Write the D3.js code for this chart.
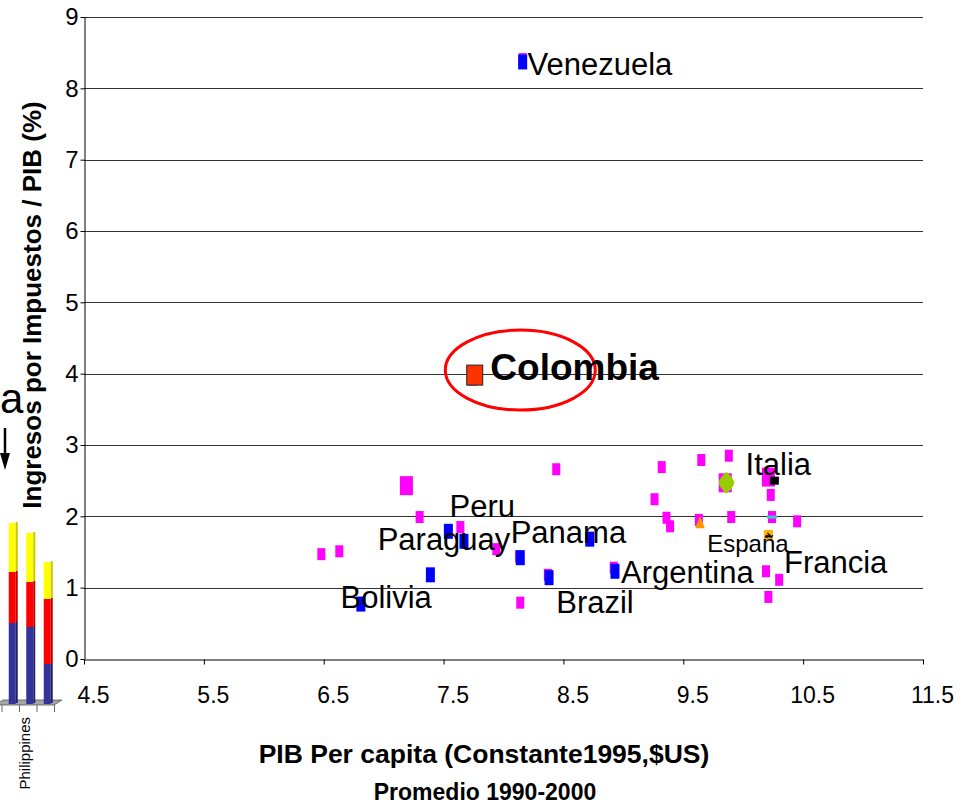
<!DOCTYPE html>
<html>
<head>
<meta charset="utf-8">
<script src="https://cdn.jsdelivr.net/npm/d3@7"></script>
<style>
    body { margin: 0; background: #fff; }
    svg { display: block; font-family: "Liberation Sans", Arial, sans-serif; }
</style>
</head>
<body>
<svg id="chart" width="967" height="809"></svg>
<script>
"use strict";

// ticks
const xTicks = [4.5, 5.5, 6.5, 7.5, 8.5, 9.5, 10.5, 11.5];
const yTicks = [0, 1, 2, 3, 4, 5, 6, 7, 8, 9];

// other countries (magenta)
const otrosX = [8.16, 8.13, 8.37, 8.92, 6.48, 6.63, 7.30, 7.64, 7.94, 8.14, 8.44, 9.26, 9.32, 9.36, 9.39, 9.63, 9.65, 9.88, 9.90, 10.19, 10.21, 10.23, 10.24, 10.30, 10.45];
const otrosY = [8.41, 1.44, 1.18, 1.28, 1.47, 1.51, 1.99, 1.85, 1.54, 0.79, 2.66, 2.24, 2.69, 1.98, 1.86, 1.95, 2.79, 2.85, 1.99, 1.23, 0.87, 2.30, 1.99, 1.11, 1.93];
const otrosGrandesX = [7.19, 9.85, 10.21];
const otrosGrandesY = [2.43, 2.47, 2.55];

// latin america (blue)
const latamX = [8.16, 7.54, 7.67, 8.14, 8.72, 7.39, 8.38, 8.93, 6.81, 7.74];
const latamY = [8.37, 1.79, 1.65, 1.42, 1.68, 1.18, 1.14, 1.23, 0.77, 3.94];

// single series
const colombia = [7.76, 3.98];
const italia = [10.26, 2.50];
const promedio = [9.86, 2.47];
const espana = [10.21, 1.74];
const triangulo = [9.64, 1.89];
const linea = [10.24, 1.99];

// point labels (anchor in data units)
const etiquetas = ["Venezuela", "Peru", "Paraguay", "Panama", "Bolivia", "Brazil", "Argentina", "Italia", "Francia"];
const etiquetasX = [8.20, 7.55, 6.95, 8.06, 6.64, 8.44, 8.98, 10.02, 10.34];
const etiquetasY = [8.19, 1.99, 1.53, 1.63, 0.71, 0.64, 1.07, 2.58, 1.21];

// fragment of the neighbouring chart (stacked bars)
const fragCategorias = ["", "Philippines", ""];
const fragAzul = [0.81, 0.77, 0.40];
const fragRojo = [0.51, 0.45, 0.65];
const fragAmarillo = [0.49, 0.49, 0.37];


const svg = d3.select("#chart");
svg.append("rect").attr("width", 967).attr("height", 809).attr("fill", "#fff");


// fragment (left edge, behind the main chart)
let frag = svg.append("g").attr("class", "fragment");

let fragX = d3.scaleBand()
.domain(d3.range(fragCategorias.length))
.range([4.5, 57]);

let fragY = d3.scaleLinear()
.domain([0, 1])
.range([704, 604]);

// floor
frag.append("path")
.attr("d", "M-5,705 L54,705 L62,700 L3,700 Z")
.attr("fill", "#a6a6a6")
.attr("stroke", "#555")
.attr("stroke-width", 0.8);
d3.range(fragCategorias.length + 1).forEach(i => {
    let x = fragX.step() * i + fragX.range()[0] - 2.5;
    frag.append("line")
    .attr("x1", x).attr("x2", x)
    .attr("y1", 705).attr("y2", 712)
    .attr("stroke", "#666");
});

let stack = fragCategorias.map((c, i) => [
    {v0: 0, v1: fragAzul[i], color: "#333399", side: "#22226b"},
    {v0: fragAzul[i], v1: fragAzul[i] + fragRojo[i], color: "#ff0000", side: "#c00000"},
    {v0: fragAzul[i] + fragRojo[i], v1: fragAzul[i] + fragRojo[i] + fragAmarillo[i], color: "#ffff00", side: "#c8c800"}
]);

stack.forEach((segs, i) => {
    let cx = fragX(i) + fragX.bandwidth() / 2;
    segs.forEach(s => {
        frag.append("rect")
        .attr("x", cx - 4.5)
        .attr("y", fragY(s.v1))
        .attr("width", 7)
        .attr("height", fragY(s.v0) - fragY(s.v1))
        .attr("fill", s.color);
        frag.append("rect")
        .attr("x", cx + 2.5)
        .attr("y", fragY(s.v1) - 1)
        .attr("width", 2)
        .attr("height", fragY(s.v0) - fragY(s.v1))
        .attr("fill", s.side);
    });
});

frag.append("text")
.attr("transform", `translate(${fragX(1) + fragX.bandwidth() / 2 - 1}, 717) rotate(-90)`)
.attr("text-anchor", "end")
.attr("font-size", 15)
.text(fragCategorias[1]);

frag.append("text")
.attr("x", 0)
.attr("y", 413)
.attr("font-size", 42)
.text("a");

frag.append("line")
.attr("x1", 5).attr("x2", 5)
.attr("y1", 428).attr("y2", 456)
.attr("stroke", "#000")
.attr("stroke-width", 2.5);
frag.append("path")
.attr("d", "M0,453 L10,453 L5,470 Z")
.attr("fill", "#000");


// scale for X
let scaleX = d3.scaleLinear()
.domain([4.5, 11.5])
.range([84, 923]);

// scale for Y
let scaleY = d3.scaleLinear()
.domain([0, 9])
.range([659, 17]);


// grid lines
svg.append("g")
.attr("class", "grid")
.selectAll("line")
.data(yTicks.filter(t => t > 0))
.join("line")
.attr("x1", scaleX(4.5))
.attr("x2", scaleX(11.5))
.attr("y1", d => Math.round(scaleY(d)) + 0.5)
.attr("y2", d => Math.round(scaleY(d)) + 0.5)
.attr("stroke", "#333")
.attr("stroke-width", 1);


// x axis
let xAxis = svg.append("g")
.attr("class", "x_axis")
.attr("transform", `translate(0, ${Math.round(scaleY(0)) + 0.5})`)
.call(d3.axisBottom(scaleX).tickValues(xTicks).tickSize(5).tickSizeOuter(0).tickFormat(d3.format(".1f")));
xAxis.select(".domain").attr("stroke", "#000");
xAxis.selectAll(".tick line").attr("stroke", "#000");
xAxis.selectAll(".tick text")
.attr("y", 43)
.attr("dy", 0)
.attr("dx", 9)
.attr("fill", "#000")
.attr("font-size", 23)
.attr("font-family", "Liberation Sans, Arial, sans-serif");


// y axis
let yAxis = svg.append("g")
.attr("class", "y_axis")
.attr("transform", `translate(${Math.round(scaleX(4.5)) + 0.5}, 0)`)
.call(d3.axisLeft(scaleY).tickValues(yTicks).tickSize(4).tickPadding(2).tickSizeOuter(0));
yAxis.select(".domain").attr("stroke", "#000");
yAxis.selectAll(".tick line").attr("stroke", "#000");
yAxis.selectAll(".tick text")
.attr("fill", "#000")
.attr("font-size", 24)
.attr("font-family", "Liberation Sans, Arial, sans-serif");


// axis titles
svg.append("text")
.attr("transform", `translate(41, 305) rotate(-90)`)
.attr("text-anchor", "middle")
.attr("font-size", 26)
.attr("font-weight", "bold")
.text("Ingresos por Impuestos / PIB (%)");

svg.append("text")
.attr("x", 484)
.attr("y", 763)
.attr("text-anchor", "middle")
.attr("font-size", 26.5)
.attr("font-weight", "bold")
.text("PIB Per capita (Constante1995,$US)");

svg.append("text")
.attr("x", 485)
.attr("y", 800)
.attr("text-anchor", "middle")
.attr("font-size", 23)
.attr("font-weight", "bold")
.text("Promedio 1990-2000");


// markers
function rects(xs, ys, w, h, fill, stroke) {
    svg.append("g")
    .selectAll("rect")
    .data(xs.map((x, i) => [x, ys[i]]))
    .join("rect")
    .attr("x", d => scaleX(d[0]) - w / 2)
    .attr("y", d => scaleY(d[1]) - h / 2)
    .attr("width", w)
    .attr("height", h)
    .attr("fill", fill)
    .attr("stroke", stroke || "none");
}

rects(otrosX, otrosY, 8, 12, "#ff00ff");
rects(otrosGrandesX, otrosGrandesY, 13, 19, "#ff00ff");
rects(latamX, latamY, 9, 15, "#0000ff");

// green diamond
let dx = scaleX(promedio[0]), dy = scaleY(promedio[1]);
svg.append("path")
.attr("d", `M${dx},${dy - 11} Q${dx + 6},${dy - 6} ${dx + 8},${dy} Q${dx + 6},${dy + 6} ${dx},${dy + 11} Q${dx - 6},${dy + 6} ${dx - 8},${dy} Q${dx - 6},${dy - 6} ${dx},${dy - 11} Z`)
.attr("fill", "#99cc00");

// black square
rects([italia[0]], [italia[1]], 9, 8, "#000");

// orange triangle
svg.append("path")
.attr("d", d3.symbol(d3.symbolTriangle, 50))
.attr("transform", `translate(${scaleX(triangulo[0])}, ${scaleY(triangulo[1])}) scale(0.9, 1.3)`)
.attr("fill", "#ff9900");

// orange square
rects([espana[0]], [espana[1]], 9, 10, "#ffb300");
svg.append("path")
.attr("d", `M${scaleX(espana[0]) - 1},${scaleY(espana[1]) - 2} l4,4 M${scaleX(espana[0]) - 2},${scaleY(espana[1]) + 3} l4,-3`)
.attr("stroke", "#000")
.attr("stroke-width", 1.2);

// cyan dash
rects([linea[0]], [linea[1]], 10, 3, "#33cccc");


// point labels
svg.append("g")
.selectAll("text")
.data(etiquetas)
.join("text")
.attr("x", (d, i) => scaleX(etiquetasX[i]))
.attr("y", (d, i) => scaleY(etiquetasY[i]))
.attr("font-size", 31)
.attr("fill", "#000")
.text(d => d);

svg.append("text")
.attr("x", scaleX(9.70))
.attr("y", scaleY(1.50))
.attr("font-size", 24)
.text("España");


// Colombia highlight
rects([colombia[0]], [colombia[1]], 16, 20, "#ff3300", "#222");

svg.append("ellipse")
.attr("cx", scaleX(8.14))
.attr("cy", scaleY(4.05))
.attr("rx", 75)
.attr("ry", 40)
.attr("fill", "none")
.attr("stroke", "#ff0000")
.attr("stroke-width", 3);

svg.append("text")
.attr("x", scaleX(7.89))
.attr("y", scaleY(3.91))
.attr("font-size", 37)
.attr("font-weight", "bold")
.text("Colombia");
</script>
</body>
</html>
